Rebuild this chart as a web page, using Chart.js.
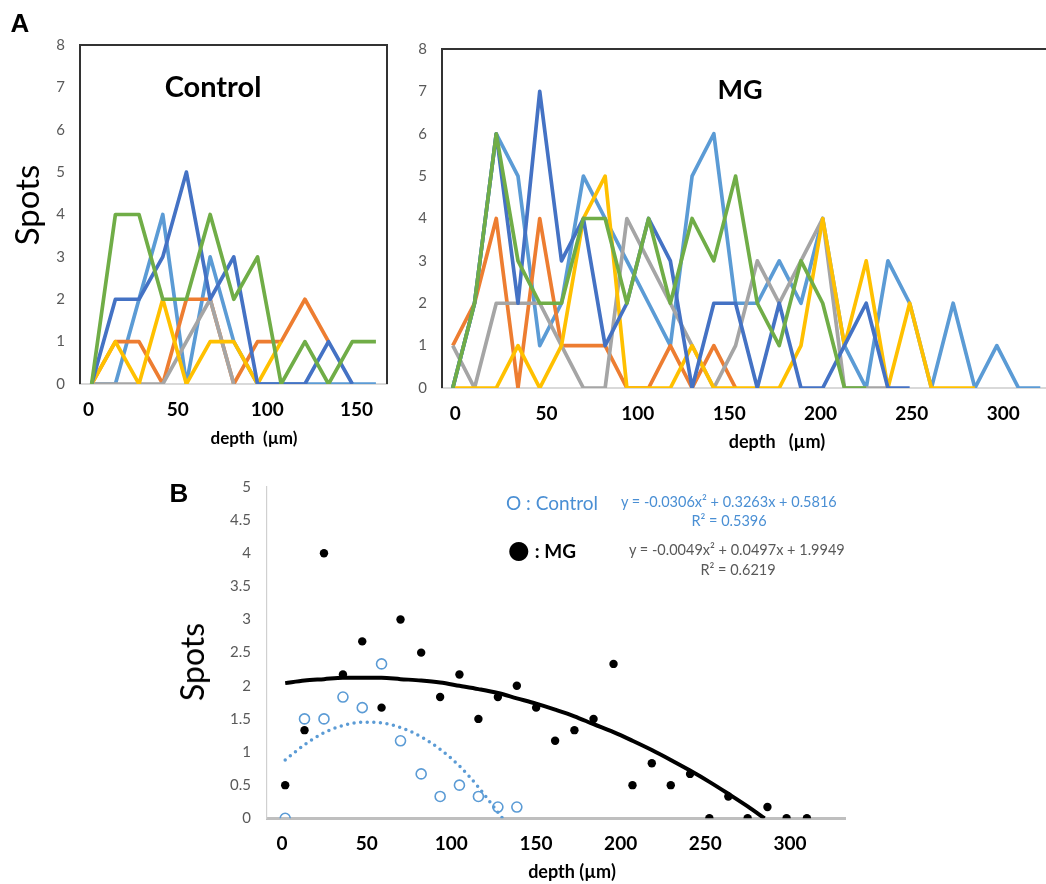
<!DOCTYPE html>
<html>
<head>
<meta charset="utf-8">
<script src="https://cdn.jsdelivr.net/npm/chart.js@4.4.1/dist/chart.umd.min.js"></script>
<style>
  html, body { margin: 0; padding: 0; background: #fff; overflow: hidden; }
  body { width: 1046px; height: 884px; position: relative; font-family: Lato, sans-serif; }
  canvas { position: absolute; }
  .t { position: absolute; white-space: nowrap; line-height: 1; transform: translate(-50%, -50%); }
  .l { position: absolute; white-space: nowrap; line-height: 1; transform: translate(0, -50%); }
  .rot { transform: translate(-50%, -50%) rotate(-90deg); }
</style>
</head>
<body>
<canvas id="ctlChart" width="400" height="450" style="left:0;top:0"></canvas>
<canvas id="mgChart" width="660" height="450" style="left:400px;top:0"></canvas>
<canvas id="fitChart" width="700" height="422" style="left:160px;top:462px"></canvas>

<div class="t" style="left:20px;top:23px;font:bold 26px 'Liberation Sans'">A</div>
<div class="t" style="left:179px;top:493px;font:bold 26px 'Liberation Sans'">B</div>
<div class="t" style="left:213px;top:85px;font-weight:bold;font-size:29px">Control</div>
<div class="t" style="left:740px;top:88px;font-weight:bold;font-size:27px">MG</div>
<div class="t rot" style="left:26px;top:205px;font-size:33px">Spots</div>
<div class="t" style="left:254px;top:437px;font-weight:bold;font-size:17px">depth&nbsp; (µm)</div>
<div class="t" style="left:777px;top:441px;font-weight:bold;font-size:18px">depth&nbsp;&nbsp; (µm)</div>
<div class="t rot" style="left:192px;top:662px;font-size:32px">Spots</div>
<div class="t" style="left:572px;top:871px;font-weight:bold;font-size:18px">depth (µm)</div>

<div class="l" style="left:506px;top:502px;font-size:19px;color:#4a8fd4">O : Control</div>
<div class="l" style="left:508px;top:549px;font-size:19px;color:#000"><span style="font-family:'DejaVu Sans';font-size:25px">●</span> <b>: MG</b></div>
<div class="l" style="left:621px;top:502px;font-size:14.5px;color:#4a8fd4">y = -0.0306x² + 0.3263x + 0.5816</div>
<div class="t" style="left:729px;top:521px;font-size:14.5px;color:#4a8fd4">R² = 0.5396</div>
<div class="l" style="left:629px;top:550px;font-size:14.5px;color:#595959">y = -0.0049x² + 0.0497x + 1.9949</div>
<div class="t" style="left:738px;top:570px;font-size:14.5px;color:#595959">R² = 0.6219</div>

<script>
// ---- panel A, Control: depth of each sample and spot counts per cell ----
const ctlDepth = [1.8, 15.1, 28.3, 41.6, 54.8, 68.1, 81.3, 94.6, 107.8, 121.1, 134.3, 147.6, 160.8];
const ctlLightBlue = [0, 0, 2, 4, 0, 3, 1, 0, 0, 0, 0, 0, 0];
const ctlOrange = [0, 1, 1, 0, 2, 2, 0, 1, 1, 2, 1];
const ctlGray = [0, 0, 0, 0, 1, 2, 0];
const ctlYellow = [0, 1, 0, 2, 0, 1, 1, 0, 1];
const ctlDarkBlue = [0, 2, 2, 3, 5, 2, 3, 0, 0, 0, 1, 0];
const ctlGreen = [0, 4, 4, 2, 2, 4, 2, 3, 0, 1, 0, 1, 1];
const ctlXTicks = [0, 50, 100, 150];

// ---- panel A, MG ----
const mgDepth = [-1.3, 10.6, 22.5, 34.4, 46.3, 58.2, 70.2, 82.1, 94, 105.9, 117.8, 129.7, 141.6, 153.5,
  165.4, 177.4, 189.3, 201.2, 213.1, 225, 236.9, 248.8, 260.7, 272.6, 284.5, 296.5, 308.4, 320.3];
const mgLightBlue = [0, 2, 6, 5, 1, 2, 5, 4, 3, 2, 1, 5, 6, 2, 2, 3, 2, 4, 1, 0, 3, 2, 0, 2, 0, 1, 0, 0];
const mgOrange = [1, 2, 4, 0, 4, 1, 1, 1, 0, 0, 1, 0, 1, 0];
const mgGray = [1, 0, 2, 2, 2, 1, 0, 0, 4, 3, 2, 1, 0, 1, 3, 2, 3, 4, 0, 0, 0];
const mgYellow = [0, 0, 0, 1, 0, 1, 4, 5, 0, 0, 0, 1, 0, 0, 0, 0, 1, 4, 1, 3, 0, 2, 0, 0, 0];
const mgDarkBlue = [0, 2, 6, 2, 7, 3, 4, 1, 2, 4, 3, 0, 2, 2, 0, 2, 0, 0, 1, 2, 0, 0];
const mgGreen = [0, 2, 6, 3, 2, 2, 4, 4, 2, 4, 2, 4, 3, 5, 2, 1, 3, 2, 0, 0];
const mgXTicks = [0, 50, 100, 150, 200, 250, 300];
const spotYTicks = [0, 1, 2, 3, 4, 5, 6, 7, 8];

// ---- panel B: mean spots vs depth, with quadratic trendlines ----
const fitDepth = [1.9, 13.3, 24.8, 36, 47.4, 58.8, 70, 82.2, 93.4, 104.8, 116, 127.5, 138.7, 150.1,
  161.3, 172.7, 184, 195.8, 207, 218.4, 229.6, 241, 252.4, 263.6, 275, 286.7, 298, 310];
const fitControl = [0, 1.5, 1.5, 1.83, 1.67, 2.33, 1.17, 0.67, 0.33, 0.5, 0.33, 0.17, 0.17];
const fitMG = [0.5, 1.33, 4, 2.17, 2.67, 1.67, 3, 2.5, 1.83, 2.17, 1.5, 1.83, 2, 1.67, 1.17, 1.33, 1.5,
  2.33, 0.5, 0.83, 0.5, 0.67, 0, 0.33, 0, 0.17, 0, 0];
const ctlTrendDepth = [1.9, 13.3, 24.8, 36, 47.4, 58.8, 70, 82.2, 93.4, 104.8, 116, 127.5, 130];
const ctlTrend = [0.88, 1.11, 1.29, 1.40, 1.45, 1.44, 1.37, 1.23, 1.04, 0.79, 0.47, 0.09, 0.01];
const mgTrendDepth = [1.9, 13.3, 24.8, 36, 47.4, 58.8, 70, 82.2, 93.4, 104.8, 116, 127.5, 138.7, 150.1,
  161.3, 172.7, 184, 195.8, 207, 218.4, 229.6, 241, 252.4, 263.6, 275, 285];
const mgTrend = [2.04, 2.08, 2.10, 2.12, 2.12, 2.12, 2.10, 2.08, 2.05, 2.00, 1.95, 1.89, 1.81, 1.73,
  1.64, 1.54, 1.42, 1.30, 1.17, 1.03, 0.88, 0.72, 0.55, 0.37, 0.18, 0];
const fitXTicks = [0, 50, 100, 150, 200, 250, 300];
const fitYTicks = [0, 0.5, 1, 1.5, 2, 2.5, 3, 3.5, 4, 4.5, 5];

const colors = {
  lightBlue: "#5B9BD5", orange: "#ED7D31", gray: "#A5A5A5",
  yellow: "#FFC000", darkBlue: "#4472C4", green: "#70AD47"
};

function pts(xs, ys) {
  return ys.map((y, i) => ({ x: xs[i], y: y }));
}

// black box round the plot area (top, left, right)
const frame = {
  id: "frame",
  afterDatasetsDraw(chart, args, opts) {
    const a = chart.chartArea, c = chart.ctx;
    c.save();
    c.strokeStyle = opts.color || "#333";
    c.lineWidth = opts.width || 2;
    c.beginPath();
    c.moveTo(a.left, a.bottom);
    c.lineTo(a.left, a.top);
    c.lineTo(a.right, a.top);
    c.lineTo(a.right, a.bottom);
    c.stroke();
    c.restore();
  }
};

function spotsPanel(id, depth, series, xRange, xTicks, pad, yWidth, xHeight) {
  const datasets = series.map((s, i) => ({
    label: s.label,
    data: pts(depth, s.values),
    borderColor: s.color,
    backgroundColor: s.color,
    borderWidth: 3.7,
    pointRadius: 0,
    showLine: true,
    tension: 0,
    borderJoinStyle: "round",
    order: series.length - i
  }));
  new Chart(document.getElementById(id), {
    type: "scatter",
    data: { datasets },
    plugins: [frame],
    options: {
      responsive: false,
      animation: false,
      events: [],
      layout: { padding: pad },
      plugins: { legend: { display: false }, tooltip: { enabled: false }, frame: { color: "#333", width: 2 } },
      scales: {
        x: {
          type: "linear", min: xRange[0], max: xRange[1],
          afterBuildTicks: s => { s.ticks = xTicks.map(v => ({ value: v })); },
          afterFit: s => { s.height = xHeight; },
          grid: { display: false, drawTicks: false },
          border: { display: true, color: "#d9d9d9", width: 2 },
          ticks: { color: "#000", padding: 14, maxRotation: 0, font: { family: "Lato", size: 19, weight: "bold" } }
        },
        y: {
          min: 0, max: 8,
          afterBuildTicks: s => { s.ticks = spotYTicks.map(v => ({ value: v })); },
          afterFit: s => { s.width = yWidth; },
          grid: { display: false, drawTicks: false },
          border: { display: false },
          ticks: { color: "#595959", padding: 15, font: { family: "Lato", size: 15 } }
        }
      }
    }
  });
}

spotsPanel("ctlChart", ctlDepth, [
  { label: "1", color: colors.lightBlue, values: ctlLightBlue },
  { label: "2", color: colors.orange, values: ctlOrange },
  { label: "3", color: colors.gray, values: ctlGray },
  { label: "4", color: colors.yellow, values: ctlYellow },
  { label: "5", color: colors.darkBlue, values: ctlDarkBlue },
  { label: "6", color: colors.green, values: ctlGreen }
], [-4.7, 167], ctlXTicks, { left: 0, top: 45, right: 13, bottom: 0 }, 80, 66);

spotsPanel("mgChart", mgDepth, [
  { label: "1", color: colors.lightBlue, values: mgLightBlue },
  { label: "2", color: colors.orange, values: mgOrange },
  { label: "3", color: colors.gray, values: mgGray },
  { label: "4", color: colors.yellow, values: mgYellow },
  { label: "5", color: colors.darkBlue, values: mgDarkBlue },
  { label: "6", color: colors.green, values: mgGreen }
], [-7.2, 328.9], mgXTicks, { left: 0, top: 49, right: 4, bottom: 0 }, 42, 62);

// panel B
new Chart(document.getElementById("fitChart"), {
  type: "scatter",
  data: {
    datasets: [
      {
        label: "MG trend",
        data: pts(mgTrendDepth, mgTrend),
        showLine: true, borderColor: "#000", borderWidth: 4, pointRadius: 0,
        cubicInterpolationMode: "monotone", order: 0
      },
      {
        label: "Control trend",
        data: pts(ctlTrendDepth, ctlTrend),
        showLine: true, borderColor: colors.lightBlue, borderWidth: 3.5, pointRadius: 0,
        borderDash: [0, 6.6], borderCapStyle: "round",
        cubicInterpolationMode: "monotone", order: 1
      },
      {
        label: "Control",
        data: pts(fitDepth, fitControl),
        pointRadius: 5, borderWidth: 1.6,
        borderColor: colors.lightBlue, backgroundColor: "rgba(255,255,255,0)", order: 2
      },
      {
        label: "MG",
        data: pts(fitDepth, fitMG),
        pointRadius: 4.2, borderWidth: 0,
        borderColor: "#000", backgroundColor: "#000", order: 3
      }
    ]
  },
  options: {
    responsive: false,
    animation: false,
    events: [],
    layout: { padding: { left: 0, top: 25, right: 15, bottom: 0 } },
    plugins: { legend: { display: false }, tooltip: { enabled: false } },
    scales: {
      x: {
        type: "linear", min: -8.85, max: 332.5,
        afterBuildTicks: s => { s.ticks = fitXTicks.map(v => ({ value: v })); },
        afterFit: s => { s.height = 65.7; },
        grid: { display: false, drawTicks: false },
        border: { display: true, color: "#bfbfbf", width: 3 },
        ticks: { color: "#000", padding: 14, maxRotation: 0, font: { family: "Lato", size: 19, weight: "bold" } }
      },
      y: {
        min: 0, max: 5,
        afterBuildTicks: s => { s.ticks = fitYTicks.map(v => ({ value: v })); },
        afterFit: s => { s.width = 107; },
        grid: { display: false, drawTicks: false },
        border: { display: true, color: "#d0d0d0", width: 1.2 },
        ticks: {
          color: "#595959", padding: 16, font: { family: "Lato", size: 15 },
          callback: v => String(v)
        }
      }
    }
  }
});
</script>
</body>
</html>
